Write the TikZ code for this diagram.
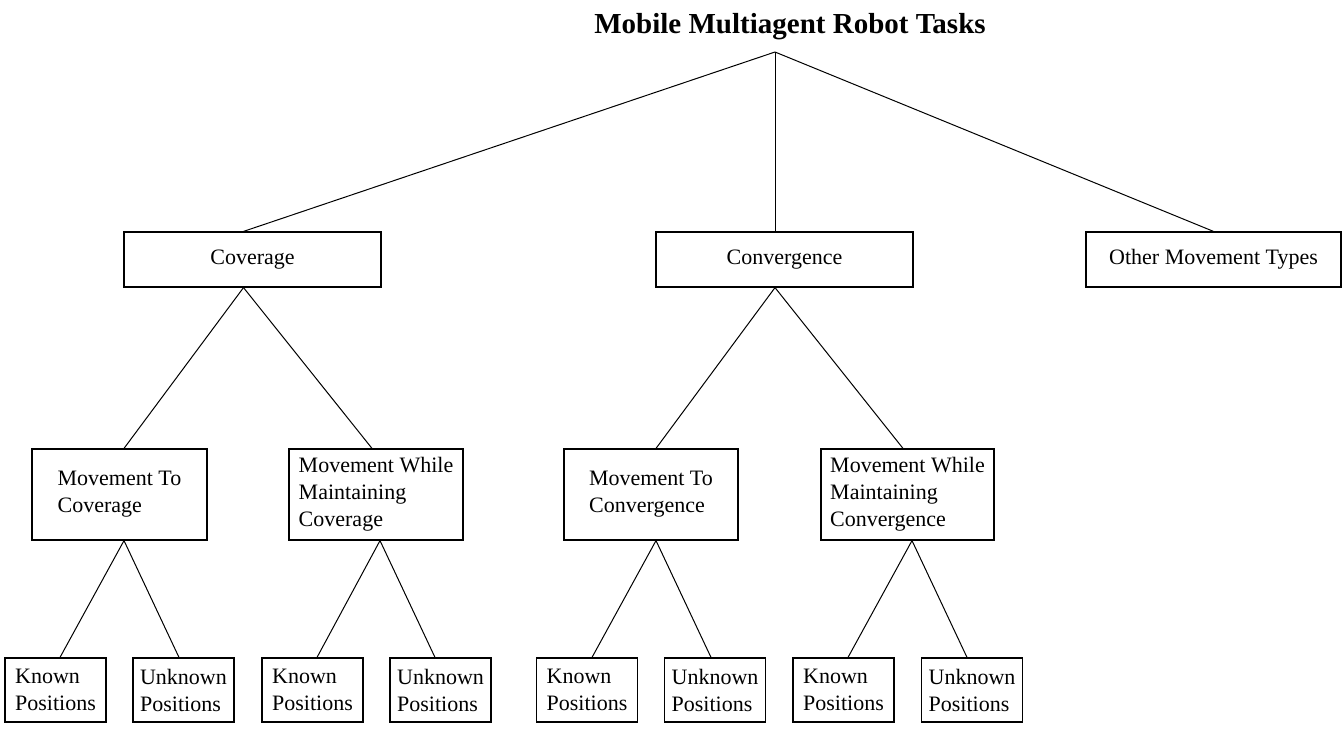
\documentclass[tikz,border=0pt]{standalone}
\usepackage{fontspec}
\setmainfont{Liberation Serif}
\usetikzlibrary{calc}

\begin{document}
\begin{tikzpicture}[x=0.5pt,y=-0.5pt,
  taskbox/.style={draw, line width=0.6pt, inner sep=0pt, align=left,
    font=\fontsize{11}{13.5}\selectfont},
  topbox/.style={taskbox, minimum height=27.5pt},
  midbox/.style={taskbox, minimum height=45.5pt},
  leafbox/.style={taskbox, minimum width=50.5pt, minimum height=32pt},
  link/.style={line width=0.5pt}]
  \useasboundingbox (0,0) rectangle (1342,728);

  \node[anchor=base, font=\fontsize{14.5}{17}\selectfont\bfseries] (title) at (790,33)
    {Mobile Multiagent Robot Tasks};
  \coordinate (root) at (775,52);

  \node[topbox, minimum width=128.5pt] (cov) at (252.5,259.5) {Coverage};
  \node[topbox, minimum width=128.5pt] (conv) at (784.5,259.5) {Convergence};
  \node[topbox, minimum width=127.5pt] (other) at (1213.5,259.5) {Other Movement Types};

  \node[midbox, minimum width=87.5pt] (mtcov) at (119.5,494.5) {Movement To\\Coverage};
  \node[midbox, minimum width=87pt] (mwmcov) at (376,494.5) {Movement While\\Maintaining\\Coverage};
  \node[midbox, minimum width=87pt] (mtconv) at (651,494.5) {Movement To\\Convergence};
  \node[midbox, minimum width=86.5pt] (mwmconv) at (907.5,494.5) {Movement While\\Maintaining\\Convergence};

  \node[leafbox] (k1) at (55.5,690) {Known\\Positions};
  \node[leafbox] (u1) at (183.5,690) {Unknown\\Positions};
  \node[leafbox] (k2) at (312.5,690) {Known\\Positions};
  \node[leafbox] (u2) at (440.5,690) {Unknown\\Positions};
  \node[leafbox] (k3) at (587,690) {Known\\Positions};
  \node[leafbox] (u3) at (715,690) {Unknown\\Positions};
  \node[leafbox] (k4) at (843.5,690) {Known\\Positions};
  \node[leafbox] (u4) at (972,690) {Unknown\\Positions};

  \draw[link] (root) -- ($(cov.north)+(-9,0)$);
  \draw[link] (root) -- (conv.north -| root);
  \draw[link] (root) -- (other.north);

  \draw[link] ($(cov.south)+(-9,0)$) -- ($(mtcov.north)+(4.5,0)$);
  \draw[link] ($(cov.south)+(-9,0)$) -- ($(mwmcov.north)+(-4,0)$);
  \draw[link] (conv.south -| root) -- ($(mtconv.north)+(5,0)$);
  \draw[link] (conv.south -| root) -- ($(mwmconv.north)+(-4.5,0)$);

  \draw[link] ($(mtcov.south)+(4.5,0)$) -- ($(k1.north)+(4.5,0)$);
  \draw[link] ($(mtcov.south)+(4.5,0)$) -- ($(u1.north)+(-4.5,0)$);
  \draw[link] ($(mwmcov.south)+(4,0)$) -- ($(k2.north)+(4.5,0)$);
  \draw[link] ($(mwmcov.south)+(4,0)$) -- ($(u2.north)+(-5.5,0)$);
  \draw[link] ($(mtconv.south)+(5,0)$) -- ($(k3.north)+(5,0)$);
  \draw[link] ($(mtconv.south)+(5,0)$) -- ($(u3.north)+(-4,0)$);
  \draw[link] ($(mwmconv.south)+(4.5,0)$) -- ($(k4.north)+(4.5,0)$);
  \draw[link] ($(mwmconv.south)+(4.5,0)$) -- ($(u4.north)+(-5,0)$);
\end{tikzpicture}
\end{document}
